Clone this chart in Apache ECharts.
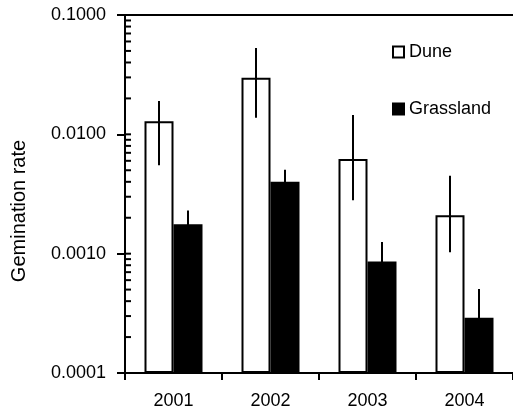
<!DOCTYPE html>
<html>
<head>
<meta charset="utf-8">
<script src="https://cdn.jsdelivr.net/npm/echarts@6/dist/echarts.min.js"></script>
<style>
  html, body { margin: 0; padding: 0; background: #fff; }
  #chart { width: 513px; height: 413px; }
</style>
</head>
<body>
<div id="chart"></div>
<script>
// Germination rate by year, dune vs grassland (log scale)
const years = ['2001', '2002', '2003', '2004'];
const duneMean  = [0.0129, 0.0298, 0.0062, 0.0021];
const duneLow   = [0.0055, 0.0138, 0.0028, 0.00103];
const duneHigh  = [0.0190, 0.0530, 0.0145, 0.0045];
const grassMean = [0.00176, 0.0040, 0.00086, 0.00029];
const grassLow  = [0.00134, 0.00315, 0.00059, 0.000167];
const grassHigh = [0.0023, 0.00505, 0.00125, 0.000505];
const seriesNames = ['Dune', 'Grassland'];
const yTitle = 'Gemination rate';

const FONT = "'Liberation Sans', Arial, Helvetica, sans-serif";
const BAR_W = 29;

// inner tick marks on the log axis (every integer multiple within each decade)
const innerTicks = [];
for (let d = -4; d <= -1; d++) {
  for (let m = 1; m <= 9; m++) {
    const v = m * Math.pow(10, d);
    if (v <= 0.1 + 1e-12) innerTicks.push([0, v]);
  }
}

function errorBars(name, low, high, side) {
  return {
    type: 'custom',
    name: name + ' error',
    z: 5,
    silent: true,
    renderItem: function (params, api) {
      const c = api.value(0);
      const top = api.coord([c, api.value(2)]);
      const bot = api.coord([c, api.value(1)]);
      const x = top[0] + side * BAR_W / 2;
      return {
        type: 'line',
        shape: { x1: x, y1: top[1], x2: x, y2: bot[1] },
        style: { stroke: '#000', lineWidth: 2 }
      };
    },
    data: years.map((_, i) => [i, low[i], high[i]])
  };
}

const chart = echarts.init(document.getElementById('chart'));
chart.setOption({
  animation: false,
  backgroundColor: '#fff',
  textStyle: { fontFamily: FONT },
  grid: { left: 125, right: -6, top: 15, bottom: 40, containLabel: false },
  legend: {
    data: seriesNames,
    orient: 'vertical',
    left: 387,
    top: 38,
    itemWidth: 11,
    itemHeight: 11,
    itemGap: 39,
    icon: 'rect',
    textStyle: { fontSize: 18, color: '#000', fontFamily: FONT }
  },
  xAxis: [{
    type: 'category',
    data: years,
    position: 'bottom',
    axisLine: { lineStyle: { color: '#000', width: 2 } },
    axisTick: { show: true, length: 7, lineStyle: { color: '#000', width: 2 } },
    axisLabel: { fontSize: 18, color: '#000', margin: 19, fontFamily: FONT },
    splitLine: { show: false }
  }, {
    type: 'category',
    data: years,
    position: 'top',
    axisLine: { lineStyle: { color: '#000', width: 2 } },
    axisTick: { show: false },
    axisLabel: { show: false },
    splitLine: { show: false }
  }],
  yAxis: {
    type: 'log',
    logBase: 10,
    min: 0.0001,
    max: 0.1,
    startValue: 0.0001,
    axisLine: { show: true, lineStyle: { color: '#000', width: 2 } },
    axisTick: { show: true, length: 8, lineStyle: { color: '#000', width: 2 } },
    axisLabel: {
      fontSize: 18, color: '#000', margin: 19, fontFamily: FONT,
      formatter: v => Number(v).toFixed(4)
    },
    splitLine: { show: false }
  },
  graphic: [{
    type: 'text',
    x: 19,
    y: 211,
    rotation: Math.PI / 2,
    style: {
      text: yTitle,
      fontSize: 20,
      fontFamily: FONT,
      fill: '#000',
      align: 'center',
      verticalAlign: 'middle'
    }
  }],
  series: [{
    name: 'Dune',
    type: 'bar',
    data: duneMean,
    barWidth: BAR_W,
    barGap: '0%',
    itemStyle: { color: '#fff', borderColor: '#000', borderWidth: 2 },
    z: 2
  }, {
    name: 'Grassland',
    type: 'bar',
    data: grassMean,
    barWidth: BAR_W,
    barGap: '0%',
    itemStyle: { color: '#000', borderColor: '#000', borderWidth: 2 },
    z: 2
  },
  errorBars('Dune', duneLow, duneHigh, -1),
  errorBars('Grassland', grassLow, grassHigh, 1),
  {
    type: 'custom',
    name: 'inner ticks',
    silent: true,
    z: 6,
    renderItem: function (params, api) {
      const y = api.coord([0, api.value(1)])[1];
      const x0 = params.coordSys.x;
      return {
        type: 'line',
        shape: { x1: x0, y1: y, x2: x0 + 6, y2: y },
        style: { stroke: '#000', lineWidth: 2 }
      };
    },
    data: innerTicks
  }]
});
</script>
</body>
</html>
